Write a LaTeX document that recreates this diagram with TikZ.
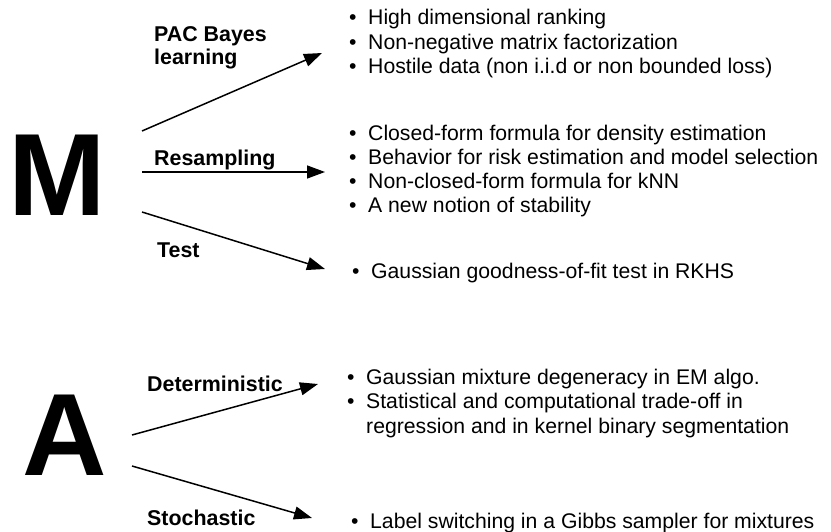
\documentclass[tikz,border=0pt]{standalone}
\usepackage{fontspec}
\setmainfont{Liberation Sans}
\usetikzlibrary{arrows.meta}
\tikzset{
  big/.style={inner sep=0pt, anchor=base west, font=\fontsize{117}{117}\selectfont\bfseries},
  lab/.style={inner sep=0pt, anchor=base west, font=\fontsize{21.4}{25}\selectfont\bfseries},
  item/.style={inner sep=0pt, anchor=base west, font=\fontsize{21.2}{25}\selectfont},
  arr/.style={line width=1.5pt, -{Triangle[length=18pt,width=13pt]}}
}
\newcommand{\bul}{\makebox[19pt][l]{•}}
\begin{document}
\begin{tikzpicture}[x=1pt,y=-1pt]
\useasboundingbox (0,0) rectangle (831,532);
% big letters
\node[big] (M) at (8,216) {M};
\node[big] (A) at (22.5,475) {A};
% labels
\node[lab] (pac1) at (154,42) {PAC Bayes};
\node[lab] (pac2) at (154,65) {learning};
\node[lab] (res) at (154,166) {Resampling};
\node[lab] (test) at (157,258) {Test};
\node[lab] (det) at (147,391) {Deterministic};
\node[lab] (sto) at (147,525) {Stochastic};
% items
\node[item] (g1a) at (349,25) {\bul High dimensional ranking};
\node[item] (g1b) at (349,49.5) {\bul Non-negative matrix factorization};
\node[item] (g1c) at (349,74) {\bul Hostile data (non i.i.d or non bounded loss)};
\node[item] (g2a) at (349,141) {\bul Closed-form formula for density estimation};
\node[item] (g2b) at (349,165) {\bul Behavior for risk estimation and model selection};
\node[item] (g2c) at (349,189) {\bul Non-closed-form formula for kNN};
\node[item] (g2d) at (349,213) {\bul A new notion of stability};
\node[item] (g3a) at (352,279) {\bul Gaussian goodness-of-fit test in RKHS};
\node[item] (g4a) at (347,384) {\bul Gaussian mixture degeneracy in EM algo.};
\node[item] (g4b) at (347,408) {\bul Statistical and computational trade-off in};
\node[item] (g4c) at (366,433) {regression and in kernel binary segmentation};
\node[item] (g5a) at (351,528) {\bul Label switching in a Gibbs sampler for mixtures};
% arrow endpoints
\coordinate (m1) at (142,131);
\coordinate (m2) at (142,172);
\coordinate (m3) at (142,212);
\coordinate (t1) at (322,53);
\coordinate (t2) at (325,172);
\coordinate (t3) at (325,269);
\coordinate (a1) at (132,435);
\coordinate (a2) at (132,466);
\coordinate (t4) at (318,384);
\coordinate (t5) at (312,518);
\draw[arr] (m1) -- (t1);
\draw[arr] (m2) -- (t2);
\draw[arr] (m3) -- (t3);
\draw[arr] (a1) -- (t4);
\draw[arr] (a2) -- (t5);
\end{tikzpicture}
\end{document}
